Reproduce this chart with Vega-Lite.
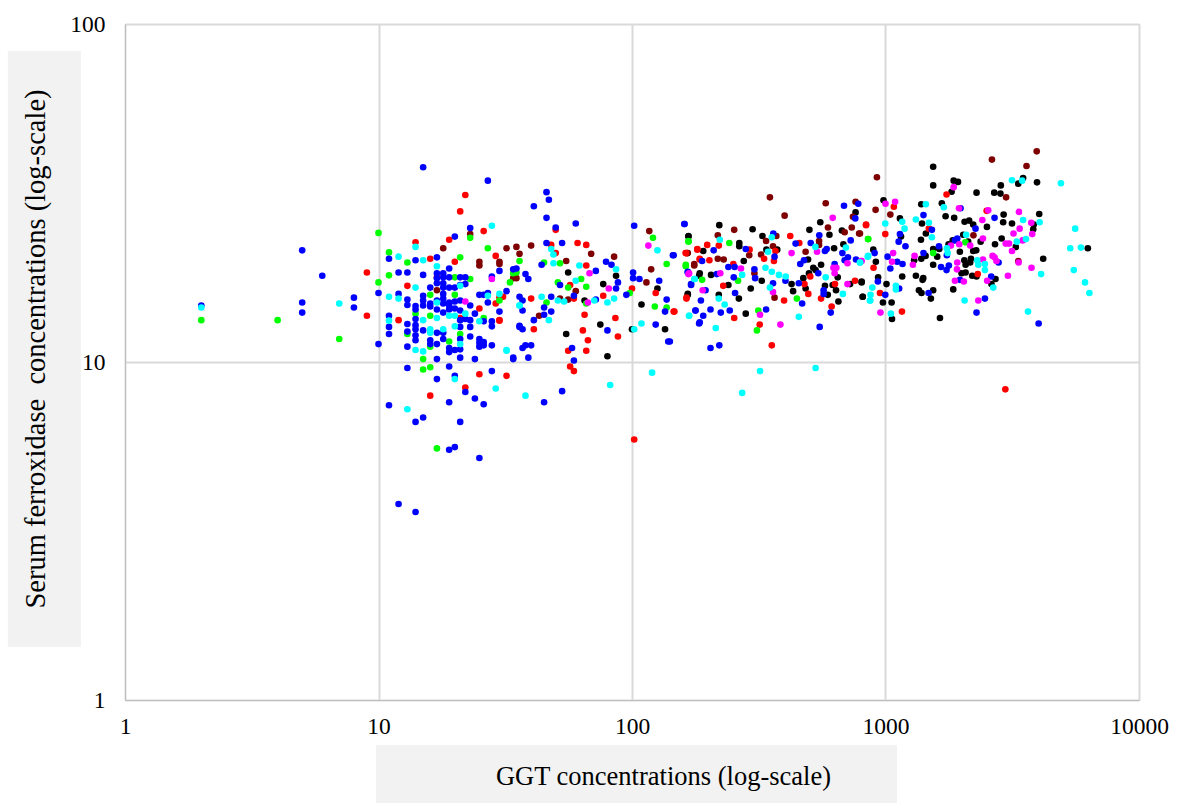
{"$schema":"https://vega.github.io/schema/vega-lite/v6.json","width":1014,"height":676,"autosize":{"type":"none"},"padding":{"left":125,"top":24,"right":39,"bottom":103},"background":"white","view":{"stroke":"#bfbfbf","strokeWidth":1},
"resolve":{"axis":{"x":"independent","y":"independent"}},
"layer":[
{"data":{"values":[
{"g":"black","x":167,"y":23.6},{"g":"black","x":56,"y":18.4},{"g":"black","x":86.5,"y":18},{"g":"black","x":77,"y":17},{"g":"black","x":65,"y":15.2},{"g":"black","x":126,"y":16.5},{"g":"black","x":166,"y":15.9},{"g":"black","x":184,"y":18},{"g":"black","x":109,"y":14.8},{"g":"black","x":75,"y":12.9},{"g":"black","x":55,"y":12.1},{"g":"black","x":80,"y":10.4},{"g":"black","x":135,"y":12.5},{"g":"black","x":100,"y":12.5},
{"g":"black","x":221,"y":25.4},{"g":"black","x":299,"y":24.7},{"g":"black","x":762,"y":27.7},{"g":"black","x":553,"y":25.9},{"g":"black","x":501,"y":24.6},{"g":"black","x":601,"y":23.8},{"g":"black","x":673,"y":24.5},{"g":"black","x":167,"y":23.5},{"g":"black","x":327,"y":23.6},{"g":"black","x":191,"y":21.3},{"g":"black","x":265,"y":22.5},{"g":"black","x":265,"y":22},{"g":"black","x":339,"y":21.5},{"g":"black","x":374,"y":21.5},{"g":"black","x":276,"y":19.9},{"g":"black","x":627,"y":21.7},{"g":"black","x":682,"y":22.3},{"g":"black","x":495,"y":20.1},{"g":"black","x":557,"y":19.4},{"g":"black","x":519,"y":19},{"g":"black","x":530,"y":18.7},{"g":"black","x":499,"y":18.3},{"g":"black","x":648,"y":17.8},{"g":"black","x":426,"y":17},{"g":"black","x":474,"y":17.7},{"g":"black","x":484,"y":16.5},{"g":"black","x":432,"y":16.2},{"g":"black","x":577,"y":16.8},{"g":"black","x":592,"y":15.8},{"g":"black","x":619,"y":16.9},{"g":"black","x":638,"y":16.3},{"g":"black","x":725,"y":17},{"g":"black","x":805,"y":17.3},{"g":"black","x":813,"y":15.6},{"g":"black","x":652,"y":15.1},{"g":"black","x":325,"y":17.4},{"g":"black","x":294,"y":16.5},{"g":"black","x":240,"y":16.9},{"g":"black","x":205,"y":18.1},{"g":"black","x":185,"y":18.3},{"g":"black","x":166,"y":15.8},{"g":"black","x":220,"y":15.8},{"g":"black","x":264,"y":15.4},{"g":"black","x":281,"y":13.9},
{"g":"black","x":1542,"y":37.8},{"g":"black","x":1542,"y":33.3},{"g":"black","x":3490,"y":35},{"g":"black","x":3340,"y":33.7},{"g":"black","x":3960,"y":34},{"g":"black","x":2850,"y":33.3},{"g":"black","x":2685,"y":31.7},{"g":"black","x":2840,"y":31.5},{"g":"black","x":2286,"y":31.7},{"g":"black","x":1858,"y":34.4},{"g":"black","x":1932,"y":34.1},{"g":"black","x":1823,"y":31.9},{"g":"black","x":1668,"y":29.5},{"g":"black","x":1384,"y":29.3},{"g":"black","x":1393,"y":25.7},{"g":"black","x":1443,"y":24},{"g":"black","x":1380,"y":23},{"g":"black","x":982,"y":30.1},{"g":"black","x":1140,"y":26.6},{"g":"black","x":1151,"y":23.5},{"g":"black","x":895,"y":21.5},{"g":"black","x":916,"y":19.8},{"g":"black","x":1164,"y":17.9},{"g":"black","x":935,"y":17.8},{"g":"black","x":805,"y":17.2},{"g":"black","x":1009,"y":17},{"g":"black","x":813,"y":15.6},{"g":"black","x":977,"y":15},{"g":"black","x":1057,"y":15},{"g":"black","x":1061,"y":13.4},{"g":"black","x":1297,"y":20},{"g":"black","x":1384,"y":20.2},{"g":"black","x":1439,"y":20.6},{"g":"black","x":1542,"y":21.6},{"g":"black","x":1600,"y":20.5},{"g":"black","x":1542,"y":19.4},{"g":"black","x":1774,"y":22.3},{"g":"black","x":1630,"y":21.6},{"g":"black","x":1841,"y":22.9},{"g":"black","x":1726,"y":27},{"g":"black","x":1866,"y":26.7},{"g":"black","x":2051,"y":26},{"g":"black","x":2138,"y":26.2},{"g":"black","x":2218,"y":25.5},{"g":"black","x":2026,"y":23.8},{"g":"black","x":1965,"y":21.2},{"g":"black","x":2118,"y":22.7},{"g":"black","x":2373,"y":22.7},{"g":"black","x":2218,"y":21.3},{"g":"black","x":2280,"y":21.4},{"g":"black","x":2513,"y":25.1},{"g":"black","x":2924,"y":27.3},{"g":"black","x":2912,"y":25.9},{"g":"black","x":3155,"y":25.7},{"g":"black","x":4040,"y":27.4},{"g":"black","x":3846,"y":25.5},{"g":"black","x":3827,"y":24.7},{"g":"black","x":6282,"y":21.7},{"g":"black","x":4189,"y":20.2},{"g":"black","x":3266,"y":21.9},{"g":"black","x":2872,"y":23.2},{"g":"black","x":2704,"y":22.3},{"g":"black","x":2173,"y":20.2},{"g":"black","x":2046,"y":20},{"g":"black","x":2070,"y":19.4},{"g":"black","x":2158,"y":19.7},{"g":"black","x":1995,"y":18.3},{"g":"black","x":2070,"y":18.4},{"g":"black","x":2198,"y":18},{"g":"black","x":2286,"y":17.9},{"g":"black","x":2716,"y":17.6},{"g":"black","x":2618,"y":17},{"g":"black","x":1850,"y":16.4},{"g":"black","x":1318,"y":18},{"g":"black","x":1409,"y":17.7},{"g":"black","x":1400,"y":17.5},{"g":"black","x":1355,"y":16.3},{"g":"black","x":1387,"y":16},{"g":"black","x":1542,"y":16.3},{"g":"black","x":1510,"y":15.4},{"g":"black","x":1640,"y":13.5},
{"g":"maroon","x":17,"y":16.3},{"g":"maroon","x":18,"y":21.7},{"g":"maroon","x":23,"y":23.9},{"g":"maroon","x":25,"y":19.8},{"g":"maroon","x":25,"y":19.3},{"g":"maroon","x":32,"y":21.7},{"g":"maroon","x":35,"y":21.9},{"g":"maroon","x":30,"y":19.8},{"g":"maroon","x":30,"y":19.5},{"g":"maroon","x":36,"y":20.9},{"g":"maroon","x":35,"y":17.7},{"g":"maroon","x":40,"y":22.1},{"g":"maroon","x":34,"y":17.7},{"g":"maroon","x":55,"y":19.9},{"g":"maroon","x":69,"y":20.9},{"g":"maroon","x":85,"y":20.5},{"g":"maroon","x":60,"y":16.2},{"g":"maroon","x":56,"y":15.3},{"g":"maroon","x":52,"y":15.4},{"g":"maroon","x":43,"y":13.7},{"g":"maroon","x":117,"y":24.4},{"g":"maroon","x":119,"y":18.8},{"g":"maroon","x":166,"y":21},{"g":"maroon","x":176,"y":19.3},{"g":"maroon","x":114,"y":17.2},
{"g":"maroon","x":350,"y":30.7},{"g":"maroon","x":400,"y":27.1},{"g":"maroon","x":581,"y":29.5},{"g":"maroon","x":762,"y":29.8},{"g":"maroon","x":744,"y":26.9},{"g":"maroon","x":253,"y":24.6},{"g":"maroon","x":593,"y":25},{"g":"maroon","x":690,"y":24.2},{"g":"maroon","x":736,"y":25},{"g":"maroon","x":787,"y":24},{"g":"maroon","x":218,"y":23.7},{"g":"maroon","x":371,"y":23.6},{"g":"maroon","x":338,"y":22.8},{"g":"maroon","x":165,"y":21},{"g":"maroon","x":290,"y":20.7},{"g":"maroon","x":323,"y":20.8},{"g":"maroon","x":360,"y":22},{"g":"maroon","x":547,"y":22.8},{"g":"maroon","x":547,"y":22.2},{"g":"maroon","x":484,"y":21.2},{"g":"maroon","x":304,"y":18.3},{"g":"maroon","x":365,"y":15.5},{"g":"maroon","x":176,"y":19.5},{"g":"maroon","x":218,"y":20.2},{"g":"maroon","x":230,"y":20.1},
{"g":"maroon","x":925,"y":35.2},{"g":"maroon","x":2630,"y":39.7},{"g":"maroon","x":3950,"y":42},{"g":"maroon","x":3600,"y":38},{"g":"maroon","x":2990,"y":30.7},{"g":"maroon","x":914,"y":28.2},{"g":"maroon","x":1045,"y":27.3},{"g":"maroon","x":793,"y":24},{"g":"maroon","x":2223,"y":23.7},{"g":"maroon","x":3340,"y":19.9},
{"g":"red","x":9,"y":18.4},{"g":"red","x":9,"y":13.7},{"g":"red","x":12,"y":13.3},{"g":"red","x":13,"y":16.8},{"g":"red","x":14,"y":22.6},{"g":"red","x":22,"y":31.2},{"g":"red","x":21,"y":27.9},{"g":"red","x":26,"y":24.4},{"g":"red","x":19,"y":23},{"g":"red","x":16,"y":20.2},{"g":"red","x":20,"y":19.8},{"g":"red","x":17,"y":17.8},{"g":"red","x":29,"y":20.6},{"g":"red","x":25,"y":14.4},{"g":"red","x":21,"y":13.5},{"g":"red","x":29,"y":14.9},{"g":"red","x":30,"y":15.5},{"g":"red","x":30,"y":13.25},{"g":"red","x":25,"y":9.2},{"g":"red","x":32,"y":9.1},{"g":"red","x":22,"y":8.4},{"g":"red","x":16,"y":7.95},
{"g":"red","x":50,"y":24.6},{"g":"red","x":48,"y":22.2},{"g":"red","x":61,"y":22.5},{"g":"red","x":66,"y":22.2},{"g":"red","x":50,"y":21},{"g":"red","x":66,"y":19.3},{"g":"red","x":57,"y":16.9},{"g":"red","x":59,"y":15.4},{"g":"red","x":40,"y":15.4},{"g":"red","x":31,"y":15.6},{"g":"red","x":30,"y":13.3},{"g":"red","x":41,"y":12.5},{"g":"red","x":77,"y":15.7},{"g":"red","x":65,"y":13.8},{"g":"red","x":86,"y":13.5},{"g":"red","x":64,"y":12.4},{"g":"red","x":88,"y":11.9},{"g":"red","x":67,"y":11.6},{"g":"red","x":66,"y":10.8},{"g":"red","x":56,"y":10.8},{"g":"red","x":57,"y":9.7},{"g":"red","x":59,"y":9.4},{"g":"red","x":100,"y":16.5},{"g":"red","x":124,"y":16},{"g":"red","x":146,"y":14.1},{"g":"red","x":163,"y":21},{"g":"red","x":181,"y":21.6},{"g":"red","x":185,"y":20.1},{"g":"red","x":164,"y":15.4},{"g":"red","x":102,"y":5.9},{"g":"red","x":2970,"y":8.3},
{"g":"red","x":838,"y":25.4},{"g":"red","x":421,"y":23.6},{"g":"red","x":220,"y":22.1},{"g":"red","x":198,"y":22.2},{"g":"red","x":181,"y":21.5},{"g":"red","x":291,"y":21.5},{"g":"red","x":163,"y":21},{"g":"red","x":368,"y":21.3},{"g":"red","x":332,"y":20.2},{"g":"red","x":363,"y":19.9},{"g":"red","x":457,"y":22.5},{"g":"red","x":505,"y":17.9},{"g":"red","x":479,"y":17},{"g":"red","x":496,"y":15.9},{"g":"red","x":632,"y":17},{"g":"red","x":758,"y":17.4},{"g":"red","x":557,"y":15.4},{"g":"red","x":613,"y":14.6},{"g":"red","x":398,"y":15.2},{"g":"red","x":229,"y":16.8},{"g":"red","x":251,"y":19.5},{"g":"red","x":185,"y":20.2},{"g":"red","x":202,"y":20},{"g":"red","x":164,"y":15.5},{"g":"red","x":147,"y":14.1},{"g":"red","x":253,"y":13.5},{"g":"red","x":319,"y":12.9},{"g":"red","x":356,"y":11.2},
{"g":"red","x":1741,"y":31.3},{"g":"red","x":1079,"y":28.8},{"g":"red","x":1483,"y":24.8},{"g":"red","x":838,"y":25.5},{"g":"red","x":998,"y":23.9},{"g":"red","x":897,"y":19},{"g":"red","x":951,"y":16},{"g":"red","x":1161,"y":14.1},{"g":"red","x":2506,"y":28},{"g":"red","x":2312,"y":18.2},
{"g":"green","x":2,"y":13.3},{"g":"green","x":4,"y":13.3},{"g":"green","x":7,"y":11.7},{"g":"green","x":10,"y":24.1},{"g":"green","x":10,"y":17.2},{"g":"green","x":11,"y":21.1},{"g":"green","x":11,"y":18.05},{"g":"green","x":13,"y":19.7},{"g":"green","x":13,"y":12.1},{"g":"green","x":14,"y":13.9},{"g":"green","x":15,"y":10.2},{"g":"green","x":15,"y":9.5},{"g":"green","x":16,"y":15.8},{"g":"green","x":16,"y":13.7},{"g":"green","x":16,"y":11.1},{"g":"green","x":16,"y":9.65},{"g":"green","x":23,"y":23.3},{"g":"green","x":21,"y":20.4},{"g":"green","x":20,"y":17.8},{"g":"green","x":23,"y":17.6},{"g":"green","x":27,"y":21.7},{"g":"green","x":36,"y":19.9},{"g":"green","x":35,"y":18.4},{"g":"green","x":20,"y":15.8},{"g":"green","x":19,"y":11.5},{"g":"green","x":21,"y":12.1},{"g":"green","x":26,"y":13.5},{"g":"green","x":30,"y":15.2},{"g":"green","x":17,"y":5.55},{"g":"green","x":34,"y":18.3},{"g":"green","x":33,"y":17.2},{"g":"green","x":45,"y":19.7},{"g":"green","x":52,"y":19.6},{"g":"green","x":63,"y":17.6},{"g":"green","x":51,"y":17.2},{"g":"green","x":56,"y":16.6},{"g":"green","x":66,"y":16.7},{"g":"green","x":46,"y":15},{"g":"green","x":66,"y":14.9},{"g":"green","x":121,"y":23.3},{"g":"green","x":137,"y":19.5},{"g":"green","x":98,"y":16},{"g":"green","x":123,"y":14.6},{"g":"green","x":137,"y":14.5},{"g":"green","x":167,"y":22.8},{"g":"green","x":163,"y":19.2},{"g":"green","x":853,"y":23.1},{"g":"green","x":167,"y":22.7},{"g":"green","x":242,"y":22.5},{"g":"green","x":163,"y":19.4},{"g":"green","x":262,"y":17.4},{"g":"green","x":189,"y":17.5},{"g":"green","x":447,"y":15.4},{"g":"green","x":315,"y":14.2},{"g":"green","x":311,"y":12.4},{"g":"green","x":855,"y":23.1},{"g":"green","x":1542,"y":21},{"g":"green","x":2065,"y":22.6},
{"g":"blue","x":2,"y":14.7},{"g":"blue","x":5,"y":21.4},{"g":"blue","x":5,"y":15},{"g":"blue","x":5,"y":14},{"g":"blue","x":6,"y":18},{"g":"blue","x":8,"y":15.5},{"g":"blue","x":8,"y":14.5},{"g":"blue","x":10,"y":16},{"g":"blue","x":10,"y":11.3},{"g":"blue","x":11,"y":20.2},{"g":"blue","x":11,"y":13.7},{"g":"blue","x":11,"y":12.7},{"g":"blue","x":11,"y":12.1},{"g":"blue","x":11,"y":7.45},{"g":"blue","x":12,"y":18.4},{"g":"blue","x":12,"y":15.9},{"g":"blue","x":12,"y":3.8},{"g":"blue","x":13,"y":18.4},{"g":"blue","x":13,"y":15.3},{"g":"blue","x":13,"y":14.75},{"g":"blue","x":13,"y":12.95},{"g":"blue","x":13,"y":12.3},{"g":"blue","x":13,"y":11.1},{"g":"blue","x":13,"y":9.6},{"g":"blue","x":14,"y":20},{"g":"blue","x":14,"y":14.65},{"g":"blue","x":14,"y":14.3},{"g":"blue","x":14,"y":13.4},{"g":"blue","x":14,"y":12.85},{"g":"blue","x":14,"y":12.5},{"g":"blue","x":14,"y":12},{"g":"blue","x":14,"y":11.6},{"g":"blue","x":14,"y":6.65},{"g":"blue","x":14,"y":3.6},{"g":"blue","x":15,"y":37.7},{"g":"blue","x":15,"y":18.1},{"g":"blue","x":15,"y":15.7},{"g":"blue","x":15,"y":15.2},{"g":"blue","x":15,"y":14.7},{"g":"blue","x":15,"y":12.4},{"g":"blue","x":15,"y":6.85},{"g":"blue","x":16,"y":16.6},{"g":"blue","x":16,"y":14.9},{"g":"blue","x":16,"y":14.6},{"g":"blue","x":16,"y":11.6},{"g":"blue","x":16,"y":11.3},{"g":"blue","x":17,"y":20.4},{"g":"blue","x":17,"y":18.3},{"g":"blue","x":17,"y":17.7},{"g":"blue","x":17,"y":17.1},{"g":"blue","x":17,"y":15.2},{"g":"blue","x":17,"y":14.3},{"g":"blue","x":17,"y":12.2},{"g":"blue","x":17,"y":11.3},{"g":"blue","x":17,"y":10.2},{"g":"blue","x":17,"y":8.9},{"g":"blue","x":18,"y":18.3},{"g":"blue","x":18,"y":17.8},{"g":"blue","x":18,"y":17.1},{"g":"blue","x":18,"y":16.6},{"g":"blue","x":18,"y":15.9},{"g":"blue","x":18,"y":15.4},{"g":"blue","x":18,"y":14.9},{"g":"blue","x":18,"y":14},{"g":"blue","x":18,"y":12.2},{"g":"blue","x":18,"y":11.7},{"g":"blue","x":19,"y":18.9},{"g":"blue","x":19,"y":17.8},{"g":"blue","x":19,"y":16.6},{"g":"blue","x":19,"y":15},{"g":"blue","x":19,"y":14.7},{"g":"blue","x":19,"y":14.3},{"g":"blue","x":19,"y":11},{"g":"blue","x":19,"y":10.7},{"g":"blue","x":19,"y":9.7},{"g":"blue","x":19,"y":7.6},{"g":"blue","x":19,"y":5.5},{"g":"blue","x":20,"y":23.5},{"g":"blue","x":20,"y":16.6},{"g":"blue","x":20,"y":15.1},{"g":"blue","x":20,"y":14.4},{"g":"blue","x":20,"y":10.85},{"g":"blue","x":20,"y":9.1},{"g":"blue","x":20,"y":5.6},{"g":"blue","x":21,"y":17.8},{"g":"blue","x":21,"y":16.9},{"g":"blue","x":21,"y":15.2},{"g":"blue","x":21,"y":14.2},{"g":"blue","x":21,"y":13.3},{"g":"blue","x":21,"y":12.7},{"g":"blue","x":21,"y":11.7},{"g":"blue","x":21,"y":10.9},{"g":"blue","x":21,"y":10.3},{"g":"blue","x":21,"y":6.65},{"g":"blue","x":22,"y":17.8},{"g":"blue","x":22,"y":17},{"g":"blue","x":22,"y":13.4},{"g":"blue","x":22,"y":8.15},{"g":"blue","x":23,"y":24.9},{"g":"blue","x":23,"y":14.7},{"g":"blue","x":23,"y":13.3},{"g":"blue","x":23,"y":12.7},{"g":"blue","x":23,"y":11.9},{"g":"blue","x":24,"y":13.9},{"g":"blue","x":24,"y":10.2},{"g":"blue","x":24,"y":7.8},{"g":"blue","x":25,"y":15.8},{"g":"blue","x":25,"y":11.7},{"g":"blue","x":25,"y":11.4},{"g":"blue","x":25,"y":11.1},{"g":"blue","x":25,"y":5.2},{"g":"blue","x":26,"y":15.8},{"g":"blue","x":26,"y":13.2},{"g":"blue","x":26,"y":11.45},{"g":"blue","x":26,"y":11.2},{"g":"blue","x":26,"y":7.5},{"g":"blue","x":27,"y":34.4},{"g":"blue","x":27,"y":16},{"g":"blue","x":27,"y":15},{"g":"blue","x":28,"y":17.9},{"g":"blue","x":28,"y":13.2},{"g":"blue","x":28,"y":12.75},{"g":"blue","x":28,"y":11.2},{"g":"blue","x":28,"y":9.4},{"g":"blue","x":30,"y":18.6},{"g":"blue","x":30,"y":14.1},{"g":"blue","x":32,"y":16.2},{"g":"blue","x":34,"y":10.2},{"g":"blue","x":35,"y":18.9},{"g":"blue","x":36,"y":12.7},
{"g":"blue","x":46,"y":31.8},{"g":"blue","x":47,"y":30.2},{"g":"blue","x":41,"y":28.9},{"g":"blue","x":46,"y":26.7},{"g":"blue","x":50,"y":25},{"g":"blue","x":60,"y":25.7},{"g":"blue","x":102,"y":25.3},{"g":"blue","x":161,"y":25.6},{"g":"blue","x":145,"y":20.7},{"g":"blue","x":166,"y":18.4},{"g":"blue","x":171,"y":16.9},{"g":"blue","x":46,"y":22.5},{"g":"blue","x":53,"y":22.5},{"g":"blue","x":34,"y":18.8},{"g":"blue","x":38,"y":18.2},{"g":"blue","x":39,"y":17.6},{"g":"blue","x":44,"y":19.4},{"g":"blue","x":72,"y":18.6},{"g":"blue","x":79,"y":19.8},{"g":"blue","x":83,"y":19.4},{"g":"blue","x":88,"y":17.2},{"g":"blue","x":86.5,"y":16.5},{"g":"blue","x":52,"y":16.9},{"g":"blue","x":59,"y":15.7},{"g":"blue","x":48,"y":15.6},{"g":"blue","x":36,"y":15.6},{"g":"blue","x":37,"y":15.2},{"g":"blue","x":37,"y":14.2},{"g":"blue","x":45,"y":14.5},{"g":"blue","x":48,"y":14.1},{"g":"blue","x":45,"y":13.8},{"g":"blue","x":41,"y":13.3},{"g":"blue","x":36,"y":12.8},{"g":"blue","x":37,"y":12.5},{"g":"blue","x":72,"y":15.3},{"g":"blue","x":80,"y":12.4},{"g":"blue","x":58,"y":11},{"g":"blue","x":59,"y":10.1},{"g":"blue","x":40,"y":11.2},{"g":"blue","x":38,"y":11.2},{"g":"blue","x":37,"y":11},{"g":"blue","x":34,"y":10.3},{"g":"blue","x":39,"y":10.3},{"g":"blue","x":45,"y":7.6},{"g":"blue","x":53,"y":8.2},{"g":"blue","x":101,"y":18.4},{"g":"blue","x":101,"y":17.7},{"g":"blue","x":107,"y":17.6},{"g":"blue","x":128,"y":17.4},{"g":"blue","x":95,"y":15.8},{"g":"blue","x":137,"y":15.3},{"g":"blue","x":135,"y":14.1},{"g":"blue","x":178,"y":14.2},{"g":"blue","x":184,"y":13},{"g":"blue","x":124,"y":12.9},{"g":"blue","x":139,"y":11.5},
{"g":"blue","x":686,"y":29},{"g":"blue","x":781,"y":29.4},{"g":"blue","x":760,"y":26.6},{"g":"blue","x":161,"y":25.6},{"g":"blue","x":361,"y":24},{"g":"blue","x":548,"y":23.7},{"g":"blue","x":210,"y":21.4},{"g":"blue","x":281,"y":21.6},{"g":"blue","x":146,"y":20.7},{"g":"blue","x":365,"y":20.5},{"g":"blue","x":442,"y":22.4},{"g":"blue","x":507,"y":22.5},{"g":"blue","x":577,"y":21.3},{"g":"blue","x":586,"y":21.6},{"g":"blue","x":729,"y":22.9},{"g":"blue","x":676,"y":21},{"g":"blue","x":711,"y":20.4},{"g":"blue","x":690,"y":20},{"g":"blue","x":765,"y":20.1},{"g":"blue","x":477,"y":20},{"g":"blue","x":461,"y":19.5},{"g":"blue","x":630,"y":19.5},{"g":"blue","x":543,"y":18.3},{"g":"blue","x":304,"y":18.8},{"g":"blue","x":306,"y":17.7},{"g":"blue","x":403,"y":17.4},{"g":"blue","x":455,"y":17.1},{"g":"blue","x":570,"y":16.3},{"g":"blue","x":570,"y":15.9},{"g":"blue","x":608,"y":14},{"g":"blue","x":469,"y":14.9},{"g":"blue","x":360,"y":17.1},{"g":"blue","x":252,"y":17.8},{"g":"blue","x":254,"y":19.1},{"g":"blue","x":240,"y":19.1},{"g":"blue","x":216,"y":18.2},{"g":"blue","x":166,"y":18.5},{"g":"blue","x":189,"y":19.9},{"g":"blue","x":171,"y":17},{"g":"blue","x":195,"y":16.3},{"g":"blue","x":187,"y":15.2},{"g":"blue","x":255,"y":16},{"g":"blue","x":178,"y":14.2},{"g":"blue","x":204,"y":14.3},{"g":"blue","x":243,"y":14.2},{"g":"blue","x":224,"y":14},{"g":"blue","x":191,"y":13.7},{"g":"blue","x":185,"y":13.1},{"g":"blue","x":338,"y":14.3},{"g":"blue","x":550,"y":12.7},{"g":"blue","x":221,"y":11.2},{"g":"blue","x":204,"y":11},{"g":"blue","x":141,"y":11.5},
{"g":"blue","x":1977,"y":28.5},{"g":"blue","x":1412,"y":27.2},{"g":"blue","x":1524,"y":24.6},{"g":"blue","x":1140,"y":23.9},{"g":"blue","x":1127,"y":22.7},{"g":"blue","x":1199,"y":22},{"g":"blue","x":906,"y":21},{"g":"blue","x":1019,"y":20.5},{"g":"blue","x":1112,"y":19.8},{"g":"blue","x":1167,"y":19.5},{"g":"blue","x":1045,"y":18.9},{"g":"blue","x":933,"y":17.3},{"g":"blue","x":1132,"y":16.5},{"g":"blue","x":998,"y":15.8},{"g":"blue","x":1412,"y":21},{"g":"blue","x":1656,"y":19.1},{"g":"blue","x":1741,"y":18.7},{"g":"blue","x":1778,"y":19.3},{"g":"blue","x":1625,"y":22},{"g":"blue","x":1746,"y":20.7},{"g":"blue","x":1879,"y":22.9},{"g":"blue","x":1919,"y":23.2},{"g":"blue","x":2265,"y":24.8},{"g":"blue","x":2692,"y":26.7},{"g":"blue","x":2793,"y":19.7},{"g":"blue","x":2612,"y":17.9},{"g":"blue","x":1965,"y":17.5},{"g":"blue","x":1479,"y":16},{"g":"blue","x":2467,"y":15.4},{"g":"blue","x":2286,"y":14},{"g":"blue","x":4018,"y":13},
{"g":"magenta","x":22,"y":15.1},{"g":"magenta","x":116,"y":22.1},{"g":"magenta","x":167,"y":18.2},{"g":"magenta","x":68,"y":18.3},{"g":"magenta","x":81,"y":16.5},{"g":"magenta","x":67,"y":15},{"g":"magenta","x":28,"y":17.6},
{"g":"magenta","x":619,"y":26.7},{"g":"magenta","x":426,"y":21},{"g":"magenta","x":537,"y":21.2},{"g":"magenta","x":708,"y":19.6},{"g":"magenta","x":800,"y":19.9},{"g":"magenta","x":623,"y":19},{"g":"magenta","x":640,"y":19},{"g":"magenta","x":630,"y":18.3},{"g":"magenta","x":708,"y":17},{"g":"magenta","x":360,"y":16.1},{"g":"magenta","x":269,"y":18.9},{"g":"magenta","x":223,"y":18.3},{"g":"magenta","x":168,"y":18.3},{"g":"magenta","x":190,"y":16.3},{"g":"magenta","x":320,"y":13.8},{"g":"magenta","x":385,"y":12.9},
{"g":"magenta","x":1858,"y":32.9},{"g":"magenta","x":1950,"y":28.5},{"g":"magenta","x":1000,"y":29.4},{"g":"magenta","x":1091,"y":29.8},{"g":"magenta","x":1072,"y":21},{"g":"magenta","x":1061,"y":19.8},{"g":"magenta","x":805,"y":19.9},{"g":"magenta","x":955,"y":14},{"g":"magenta","x":1302,"y":20.6},{"g":"magenta","x":1283,"y":19.4},{"g":"magenta","x":1811,"y":22.1},{"g":"magenta","x":1954,"y":22.3},{"g":"magenta","x":2158,"y":22.1},{"g":"magenta","x":2423,"y":23.2},{"g":"magenta","x":2410,"y":26.3},{"g":"magenta","x":2542,"y":28.1},{"g":"magenta","x":3359,"y":27.8},{"g":"magenta","x":3758,"y":25.8},{"g":"magenta","x":3381,"y":24.8},{"g":"magenta","x":3793,"y":23.9},{"g":"magenta","x":3199,"y":24},{"g":"magenta","x":3767,"y":19},{"g":"magenta","x":3475,"y":22.9},{"g":"magenta","x":3155,"y":21.3},{"g":"magenta","x":2979,"y":22.4},{"g":"magenta","x":3070,"y":22.4},{"g":"magenta","x":2645,"y":20.6},{"g":"magenta","x":2692,"y":20.4},{"g":"magenta","x":2740,"y":19.9},{"g":"magenta","x":3350,"y":19.7},{"g":"magenta","x":3040,"y":18},{"g":"magenta","x":2423,"y":20.1},{"g":"magenta","x":1919,"y":19.7},{"g":"magenta","x":1914,"y":18.8},{"g":"magenta","x":1879,"y":17.4},{"g":"magenta","x":2037,"y":17.3},{"g":"magenta","x":2518,"y":17.4},{"g":"magenta","x":2323,"y":15.2},
{"g":"cyan","x":2,"y":14.5},{"g":"cyan","x":7,"y":14.9},{"g":"cyan","x":11,"y":15.6},{"g":"cyan","x":11,"y":13.25},{"g":"cyan","x":12,"y":20.5},{"g":"cyan","x":12,"y":15.4},{"g":"cyan","x":14,"y":21.9},{"g":"cyan","x":14,"y":16.6},{"g":"cyan","x":14,"y":10.85},{"g":"cyan","x":15,"y":20},{"g":"cyan","x":15,"y":13.3},{"g":"cyan","x":15,"y":10.75},{"g":"cyan","x":16,"y":12.5},{"g":"cyan","x":16,"y":12.2},{"g":"cyan","x":17,"y":19.2},{"g":"cyan","x":17,"y":15},{"g":"cyan","x":17,"y":13.5},{"g":"cyan","x":18,"y":12.5},{"g":"cyan","x":19,"y":13.7},{"g":"cyan","x":20,"y":13.7},{"g":"cyan","x":20,"y":12.75},{"g":"cyan","x":20,"y":8.9},{"g":"cyan","x":21,"y":16.8},{"g":"cyan","x":21,"y":11.3},{"g":"cyan","x":22,"y":13.9},{"g":"cyan","x":25,"y":13.2},{"g":"cyan","x":27,"y":15.7},{"g":"cyan","x":28,"y":25.3},{"g":"cyan","x":29,"y":8.35},{"g":"cyan","x":30,"y":15.9},{"g":"cyan","x":32,"y":10.85},{"g":"cyan","x":36,"y":14.7},{"g":"cyan","x":13,"y":7.25},{"g":"cyan","x":38,"y":7.95},
{"g":"cyan","x":48,"y":21.6},{"g":"cyan","x":49,"y":20.8},{"g":"cyan","x":49,"y":19.6},{"g":"cyan","x":62,"y":19.3},{"g":"cyan","x":86.5,"y":18.8},{"g":"cyan","x":60,"y":17.4},{"g":"cyan","x":51,"y":15.2},{"g":"cyan","x":54,"y":15.1},{"g":"cyan","x":44,"y":15.6},{"g":"cyan","x":36,"y":14.7},{"g":"cyan","x":47,"y":13.3},{"g":"cyan","x":71,"y":15.2},{"g":"cyan","x":80,"y":15},{"g":"cyan","x":85,"y":15.4},{"g":"cyan","x":32,"y":10.8},{"g":"cyan","x":126,"y":21.4},{"g":"cyan","x":177,"y":17.6},{"g":"cyan","x":168,"y":13.7},{"g":"cyan","x":109,"y":13},{"g":"cyan","x":102,"y":12.5},{"g":"cyan","x":82,"y":8.55},{"g":"cyan","x":120,"y":9.3},{"g":"cyan","x":272,"y":8.1},{"g":"cyan","x":320,"y":9.4},{"g":"cyan","x":530,"y":9.6},
{"g":"cyan","x":222,"y":23},{"g":"cyan","x":356,"y":23.4},{"g":"cyan","x":344,"y":21.2},{"g":"cyan","x":529,"y":21.9},{"g":"cyan","x":698,"y":21.8},{"g":"cyan","x":794,"y":19.7},{"g":"cyan","x":851,"y":20.5},{"g":"cyan","x":581,"y":17.8},{"g":"cyan","x":336,"y":19},{"g":"cyan","x":356,"y":18.5},{"g":"cyan","x":380,"y":18.1},{"g":"cyan","x":404,"y":17.9},{"g":"cyan","x":679,"y":15.9},{"g":"cyan","x":868,"y":15.2},{"g":"cyan","x":350,"y":16.6},{"g":"cyan","x":272,"y":18.1},{"g":"cyan","x":176,"y":17.6},{"g":"cyan","x":220,"y":15.4},{"g":"cyan","x":232,"y":14.8},{"g":"cyan","x":168,"y":13.7},{"g":"cyan","x":455,"y":13.6},{"g":"cyan","x":214,"y":12.6},
{"g":"cyan","x":3460,"y":34.4},{"g":"cyan","x":3155,"y":34.5},{"g":"cyan","x":4920,"y":33.8},{"g":"cyan","x":1698,"y":28.7},{"g":"cyan","x":1443,"y":29.3},{"g":"cyan","x":1318,"y":26.4},{"g":"cyan","x":1483,"y":25.8},{"g":"cyan","x":1524,"y":23.4},{"g":"cyan","x":1164,"y":26},{"g":"cyan","x":1189,"y":24.8},{"g":"cyan","x":998,"y":25.7},{"g":"cyan","x":855,"y":20.6},{"g":"cyan","x":793,"y":19.7},{"g":"cyan","x":887,"y":16.6},{"g":"cyan","x":1099,"y":16.8},{"g":"cyan","x":1099,"y":16.4},{"g":"cyan","x":873,"y":15.8},{"g":"cyan","x":871,"y":15.2},{"g":"cyan","x":1050,"y":13.9},{"g":"cyan","x":1746,"y":21.7},{"g":"cyan","x":1758,"y":21},{"g":"cyan","x":2080,"y":23.8},{"g":"cyan","x":3490,"y":26.3},{"g":"cyan","x":4055,"y":25.9},{"g":"cyan","x":5600,"y":24.8},{"g":"cyan","x":5355,"y":21.7},{"g":"cyan","x":5901,"y":21.8},{"g":"cyan","x":5530,"y":18.7},{"g":"cyan","x":6124,"y":17.2},{"g":"cyan","x":6373,"y":16},{"g":"cyan","x":4110,"y":18.2},{"g":"cyan","x":3581,"y":23.1},{"g":"cyan","x":3295,"y":22.7},{"g":"cyan","x":2301,"y":20},{"g":"cyan","x":2323,"y":19.4},{"g":"cyan","x":2467,"y":19.5},{"g":"cyan","x":2467,"y":18.7},{"g":"cyan","x":2661,"y":16.6},{"g":"cyan","x":2051,"y":15.2},{"g":"cyan","x":3648,"y":14.1}
]},
"mark":{"type":"point","filled":true,"size":44,"opacity":1,"stroke":null},
"encoding":{
"x":{"field":"x","type":"quantitative","scale":{"type":"log","domain":[1,10000]},"axis":{"values":[1,10,100,1000,10000],"format":"d","grid":false,"ticks":false,"domainColor":"#bfbfbf","labelFont":"Liberation Serif","labelFontSize":23.5,"labelColor":"#000000","labelPadding":14,"labelFlush":false,"title":"GGT concentrations (log-scale)","titleFont":"Liberation Serif","titleFontSize":26.5,"titleFontWeight":"normal","titleColor":"#000000","titleX":538,"titleY":63,"titleAlign":"center","zindex":1}},
"y":{"field":"y","type":"quantitative","scale":{"type":"log","domain":[1,100]},"axis":{"values":[1,10,100],"format":"d","grid":false,"ticks":false,"domainColor":"#bfbfbf","labelFont":"Liberation Serif","labelFontSize":23.5,"labelColor":"#000000","labelPadding":20,"labelFlush":false,"title":"Serum ferroxidase\u00a0 concentrations (log-scale)","titleFont":"Liberation Serif","titleFontSize":28.5,"titleFontWeight":"normal","titleColor":"#000000","titleX":-75,"titleY":324.5,"titleAlign":"center","zindex":1}},
"color":{"field":"g","type":"nominal","legend":null,"scale":{"domain":["black","maroon","red","green","blue","magenta","cyan"],"range":["#000000","#7f0000","#ff0000","#00ff00","#0000ff","#ff00ff","#00ffff"]}}
}},
{"data":{"values":[{"x0":0.345,"x1":0.67,"y0":1.435,"y1":83.2},{"x0":9.78,"x1":1110,"y0":0.496,"y1":0.736}]},"mark":{"type":"rect","color":"#f2f2f2","clip":false},
"encoding":{"x":{"field":"x0","type":"quantitative","scale":{"type":"log","domain":[1,10000]},"axis":{"values":[1,10,100,1000,10000],"grid":true,"gridColor":"#d9d9d9","gridWidth":2,"ticks":false,"labels":false,"domain":false,"title":null,"zindex":0}},"x2":{"field":"x1"},"y":{"field":"y0","type":"quantitative","scale":{"type":"log","domain":[1,100]},"axis":{"values":[1,10,100],"grid":true,"gridColor":"#d9d9d9","gridWidth":2,"ticks":false,"labels":false,"domain":false,"title":null,"zindex":0}},"y2":{"field":"y1"}}}
]}
